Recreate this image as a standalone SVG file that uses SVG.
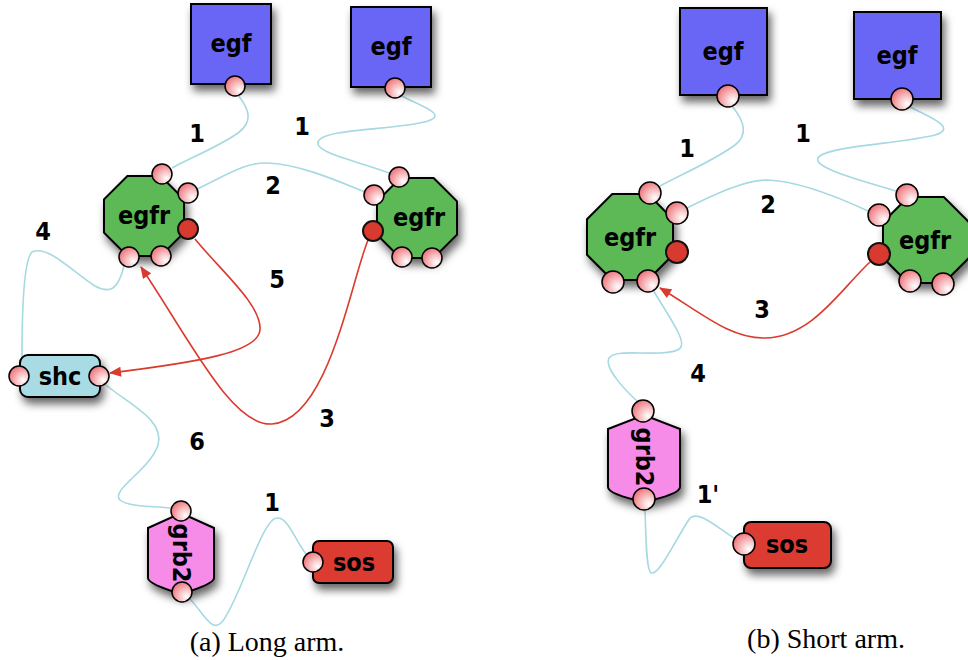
<svg xmlns="http://www.w3.org/2000/svg" width="968" height="660" viewBox="0 0 968 660">
<defs>
<style>
.lbl{font-family:"DejaVu Sans Condensed","DejaVu Sans",sans-serif;font-weight:bold;font-size:25px;fill:#000;text-anchor:middle}
.nt{font-family:"DejaVu Sans Condensed","DejaVu Sans",sans-serif;font-weight:bold;font-size:25px;fill:#000;text-anchor:middle}
.cap{font-family:"Liberation Serif","DejaVu Serif",serif;font-size:28px;fill:#000;text-anchor:middle}
.node{stroke:#000;stroke-width:2;filter:url(#sh)}
.port{fill:url(#pg);stroke:#000;stroke-width:1.5}
.rport{fill:#d93a30;stroke:#111;stroke-width:2}
.bl{fill:none;stroke:#a6d9e2;stroke-width:1.6}
.rd{fill:none;stroke:#db3a2e;stroke-width:1.6;marker-end:url(#ah)}
</style>
<filter id="sh" x="-30%" y="-30%" width="170%" height="170%">
<feDropShadow dx="3" dy="6" stdDeviation="4" flood-color="#000" flood-opacity="0.6"/>
</filter>
<radialGradient id="pg" cx="0.72" cy="0.72" r="0.75">
<stop offset="0" stop-color="#ffffff"/>
<stop offset="1" stop-color="#ef7a80"/>
</radialGradient>
<marker id="ah" viewBox="0 0 12 10" refX="11" refY="5" markerWidth="13" markerHeight="10" markerUnits="userSpaceOnUse" orient="auto">
<path d="M0,0 L12,5 L0,10 Z" fill="#db3a2e"/>
</marker>
</defs>
<rect width="968" height="660" fill="#fff"/>

<g id="connectors">
<!-- panel a -->
<path class="bl" d="M238,95 C250,110 253,122 238,133 C220,146 190,158 172,168"/>
<path class="bl" d="M402,96 C420,106 448,114 428,121 C400,130 322,128 318,142 C315,153 360,162 389,173"/>
<path class="bl" d="M197,189 C225,176 245,162 267,163 C300,164 340,182 365,192"/>
<path class="bl" d="M124,266 C118,290 110,294 95,286 C75,274 48,244 32,252 C22,262 22,330 22,356"/>
<path class="bl" d="M106,385 C130,405 165,420 158,445 C150,470 110,490 120,500 C128,507 155,506 170,508"/>
<path class="bl" d="M190,599 C205,615 212,633 222,622 C240,600 262,518 277,518 C288,517 295,540 306,554"/>
<path class="rd" d="M368,240 C350,285 328,420 272,424 C232,427 190,340 141,267"/>
<path class="rd" d="M195,239 C220,270 262,305 260,330 C258,352 200,362 110,373"/>
<!-- panel b -->
<path class="bl" d="M732,106 C745,122 748,135 735,145 C715,160 680,175 660,186"/>
<path class="bl" d="M910,107 C930,117 958,128 935,135 C900,144 825,146 818,158 C813,168 860,180 896,191"/>
<path class="bl" d="M687,208 C715,194 745,180 767,180 C800,181 840,198 868,211"/>
<path class="bl" d="M653,290 C662,305 672,320 678,332 C686,348 682,352 660,353 C640,354 615,350 609,358 C604,368 625,390 637,401"/>
<path class="bl" d="M645,510 C646,535 646,570 651,573 C660,575 675,540 690,518 C700,510 720,530 734,538"/>
<path class="rd" d="M870,262 C840,290 812,337 765,338 C730,339 700,312 660,288"/>
</g>

<g id="egf-a1">
<rect class="node" x="191" y="4" width="80" height="80" fill="#6b66f5"/>
<text class="nt" x="231" y="52">egf</text>
<circle class="port" cx="235" cy="86" r="10"/>
</g>
<g id="egf-a2">
<rect class="node" x="351" y="7" width="80" height="80" fill="#6b66f5"/>
<text class="nt" x="391" y="55">egf</text>
<circle class="port" cx="395" cy="88" r="10"/>
</g>
<g id="egfr-a1">
<polygon class="node" fill="#5cb954" points="127.4,176 160.6,176 184,199.4 184,232.6 160.6,256 127.4,256 104,232.6 104,199.4"/>
<text class="nt" x="144" y="224">egfr</text>
<circle class="port" cx="162" cy="174" r="10"/>
<circle class="port" cx="188" cy="193" r="10"/>
<circle class="rport" cx="188" cy="229" r="10"/>
<circle class="port" cx="129" cy="257" r="10"/>
<circle class="port" cx="161" cy="256" r="10"/>
</g>
<g id="egfr-a2">
<polygon class="node" fill="#5cb954" points="400.4,178 433.6,178 457,201.4 457,234.6 433.6,258 400.4,258 377,234.6 377,201.4"/>
<text class="nt" x="419" y="226">egfr</text>
<circle class="port" cx="399" cy="177" r="10"/>
<circle class="port" cx="374" cy="195" r="10"/>
<circle class="rport" cx="373" cy="231" r="10"/>
<circle class="port" cx="402" cy="257" r="10"/>
<circle class="port" cx="432" cy="258" r="10"/>
</g>
<g id="shc-a">
<rect class="node" x="20" y="355" width="80" height="42" rx="8" fill="#a9dbe5"/>
<text class="nt" x="60" y="385">shc</text>
<circle class="port" cx="19" cy="376" r="10"/>
<circle class="port" cx="99" cy="376" r="10"/>
</g>
<g id="grb2-a">
<path class="node" fill="#f78be8" d="M148,528 L181,513 L214,528 L214,578 Q214,584 181,594 Q148,584 148,578 Z"/>
<text class="nt" transform="translate(181,553) rotate(90)" y="8">grb2</text>
<circle class="port" cx="181" cy="511" r="10"/>
<circle class="port" cx="182" cy="592" r="10"/>
</g>
<g id="sos-a">
<rect class="node" x="313" y="541" width="80" height="42" rx="6" fill="#dc3a32"/>
<text class="nt" x="354" y="571">sos</text>
<circle class="port" cx="313" cy="562" r="10"/>
</g>

<g id="egf-b1">
<rect class="node" x="680" y="8" width="87" height="87" fill="#6b66f5"/>
<text class="nt" x="723" y="60">egf</text>
<circle class="port" cx="728" cy="96" r="11"/>
</g>
<g id="egf-b2">
<rect class="node" x="854" y="12" width="87" height="87" fill="#6b66f5"/>
<text class="nt" x="897" y="64">egf</text>
<circle class="port" cx="902" cy="99" r="11"/>
</g>
<g id="egfr-b1">
<polygon class="node" fill="#5cb954" points="612.2,194 647.8,194 673,219.2 673,254.8 647.8,280 612.2,280 587,254.8 587,219.2"/>
<text class="nt" x="630" y="246">egfr</text>
<circle class="port" cx="650" cy="193" r="11"/>
<circle class="port" cx="677" cy="213" r="11"/>
<circle class="rport" cx="677" cy="252" r="11"/>
<circle class="port" cx="613" cy="282" r="11"/>
<circle class="port" cx="648" cy="281" r="11"/>
</g>
<g id="egfr-b2">
<polygon class="node" fill="#5cb954" points="908.2,197 943.8,197 969,222.2 969,257.8 943.8,283 908.2,283 883,257.8 883,222.2"/>
<text class="nt" x="925" y="249">egfr</text>
<circle class="port" cx="907" cy="195" r="11"/>
<circle class="port" cx="879" cy="215" r="11"/>
<circle class="rport" cx="879" cy="254" r="11"/>
<circle class="port" cx="910" cy="281" r="11"/>
<circle class="port" cx="943" cy="284" r="11"/>
</g>
<g id="grb2-b">
<path class="node" fill="#f78be8" d="M608,429 L644,415 L680,429 L680,487 Q680,494 644,502 Q608,494 608,487 Z"/>
<text class="nt" transform="translate(644,457) rotate(90)" y="8">grb2</text>
<circle class="port" cx="643" cy="411" r="11"/>
<circle class="port" cx="644" cy="499" r="11"/>
</g>
<g id="sos-b">
<rect class="node" x="744" y="522" width="87" height="46" rx="7" fill="#dc3a32"/>
<text class="nt" x="787" y="553">sos</text>
<circle class="port" cx="744" cy="544" r="11"/>
</g>

<g id="labels">
<text class="lbl" x="197" y="142">1</text>
<text class="lbl" x="302" y="135">1</text>
<text class="lbl" x="273" y="194">2</text>
<text class="lbl" x="43" y="240">4</text>
<text class="lbl" x="277" y="288">5</text>
<text class="lbl" x="327" y="427">3</text>
<text class="lbl" x="197" y="450">6</text>
<text class="lbl" x="272" y="511">1</text>
<text class="lbl" x="687" y="157">1</text>
<text class="lbl" x="803" y="142">1</text>
<text class="lbl" x="768" y="213">2</text>
<text class="lbl" x="762" y="318">3</text>
<text class="lbl" x="698" y="382">4</text>
<text class="lbl" x="708" y="503">1'</text>
<text class="cap" x="267" y="651">(a) Long arm.</text>
<text class="cap" x="826" y="648">(b) Short arm.</text>
</g>
</svg>
